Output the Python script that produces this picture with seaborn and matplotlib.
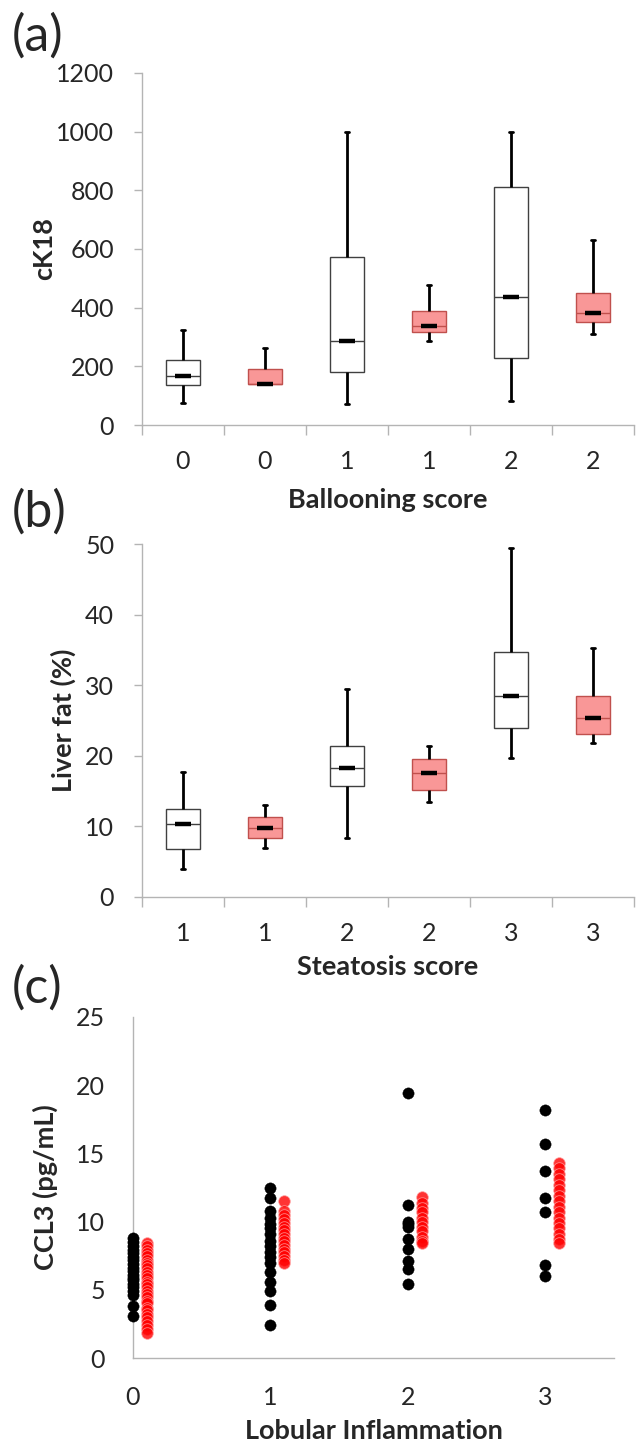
import numpy as np
import pandas as pd
import matplotlib
matplotlib.use("Agg")
import matplotlib.pyplot as plt
import seaborn as sns

# ---- (a) cK18 by ballooning score: five-number summaries (min, q1, median, q3, max)
BALLOON_LABELS = ["0", "0", "1", "1", "2", "2"]
CK18_STATS = [
    [76, 135, 168, 221, 323],     # 0 white
    [140, 141, 141, 190, 263],    # 0 red
    [72, 180, 286, 573, 1000],    # 1 white
    [286, 317, 339, 387, 478],    # 1 red
    [82, 228, 438, 810, 1000],    # 2 white
    [309, 351, 383, 451, 629],    # 2 red
]

# ---- (b) liver fat by steatosis score
STEATOSIS_LABELS = ["1", "1", "2", "2", "3", "3"]
FAT_STATS = [
    [3.9, 6.75, 10.4, 12.5, 17.7],
    [6.9, 8.3, 9.8, 11.3, 13.0],
    [8.3, 15.7, 18.3, 21.4, 29.4],
    [13.5, 15.2, 17.5, 19.6, 21.4],
    [19.7, 23.9, 28.4, 34.7, 49.5],
    [21.8, 23.1, 25.4, 28.5, 35.3],
]

# ---- (c) CCL3 by lobular inflammation
LOBULAR = [0, 1, 2, 3]
CCL3_BLACK = [
    [8.8, 8.5, 8.2, 7.9, 7.7, 7.4, 7.2, 6.9, 6.6, 6.4, 6.1, 5.9, 5.7, 5.4, 5.2, 4.9, 4.6, 3.8, 3.1],
    [12.5, 11.7, 10.8, 10.3, 9.8, 9.5, 9.1, 8.6, 8.2, 7.8, 7.4, 7.0, 6.3, 5.6, 4.9, 3.9, 2.4],
    [19.4, 11.2, 10.0, 9.8, 9.6, 8.7, 8.0, 7.1, 6.5, 5.4],
    [18.2, 15.7, 13.7, 11.7, 10.7, 6.8, 6.0],
]
CCL3_RED = [
    [8.4, 8.2, 7.9, 7.7, 7.5, 7.2, 7.0, 6.8, 6.6, 6.3, 6.1, 5.9, 5.6, 5.4, 5.2, 4.9, 4.7,
     4.5, 4.2, 4.0, 3.7, 3.5, 3.2, 3.0, 2.7, 2.4, 2.1, 1.8],
    [11.5, 10.8, 10.5, 10.2, 9.9, 9.6, 9.4, 9.1, 8.8, 8.6, 8.3, 8.0, 7.8, 7.5, 7.2, 7.0],
    [11.8, 11.4, 11.0, 10.7, 10.3, 10.0, 9.6, 9.3, 8.9, 8.6, 8.4],
    [14.3, 13.9, 13.5, 13.1, 12.7, 12.3, 11.9, 11.5, 11.1, 10.7, 10.3, 9.9, 9.5, 9.1, 8.7, 8.4],
]

GRAY = "#B4B4B4"
RED_FILL = "#F99797"
RED_EDGE = "#C0504D"
RED_SHIFT = 0.1
TICK_FS = 18
LABEL_FS = 19.5

sns.set_theme(style="white")
plt.rcParams["font.family"] = ["Lato", "DejaVu Sans"]

W, H = 637, 1446
fig = plt.figure(figsize=(W / 100, H / 100), dpi=100)


def frac(left, top, right, bottom):
    return [left / W, 1 - bottom / H, (right - left) / W, (bottom - top) / H]


def style_axes(ax):
    sns.despine(ax=ax)
    for s in ("left", "bottom"):
        ax.spines[s].set_color(GRAY)
        ax.spines[s].set_linewidth(1.0)


def box_panel(ax, stats, labels, ylim, step, ylabel, xlabel, ylab_x, xlab_y):
    rows = []
    for pos, five in enumerate(stats):
        for v in five:
            rows.append({"pos": pos, "val": v, "grp": "red" if pos % 2 else "white"})
    df = pd.DataFrame(rows)
    order = list(range(len(stats)))
    for grp, fill, edge in [("white", "white", "#404040"), ("red", RED_FILL, RED_EDGE)]:
        sns.boxplot(data=df[df.grp == grp], x="pos", y="val", order=order, ax=ax,
                    whis=(0, 100), width=0.41, saturation=1, color=fill,
                    linecolor=edge, linewidth=1.0, capwidths=0.05,
                    whiskerprops={"color": "black", "linewidth": 2.0},
                    capprops={"color": "black", "linewidth": 2.0},
                    medianprops={"color": edge, "linewidth": 1.0})
    meds = [s[2] for s in stats]
    ax.plot(order, meds, ls="none", marker="_", ms=11, mew=3.2, color="black", zorder=5)

    ax.set_xlim(-0.5, len(stats) - 0.5)
    ax.set_ylim(*ylim)
    ax.set_yticks(np.arange(ylim[0], ylim[1] + step / 2, step))
    ax.set_xticks(order)
    ax.set_xticklabels(labels)
    ax.set_xticks(np.arange(-0.5, len(stats)), minor=True)
    ax.tick_params(axis="x", which="minor", length=7, width=1, color=GRAY, direction="out",
                   bottom=True)
    ax.tick_params(axis="x", which="major", length=0, pad=18, labelsize=TICK_FS)
    ax.tick_params(axis="y", length=6, width=1, color=GRAY, direction="out", left=True,
                   pad=14, labelsize=TICK_FS)
    ax.set_ylabel(ylabel, fontsize=LABEL_FS, fontweight="bold")
    ax.set_xlabel(xlabel, fontsize=LABEL_FS, fontweight="bold")
    ax.yaxis.set_label_coords(ylab_x, 0.5)
    ax.xaxis.set_label_coords(0.5, xlab_y)
    style_axes(ax)


ax_a = fig.add_axes(frac(142, 73, 634, 425))
box_panel(ax_a, CK18_STATS, BALLOON_LABELS, (0, 1200), 200, "cK18", "Ballooning score",
          -0.175, -0.179)

ax_b = fig.add_axes(frac(142, 544, 634, 897))
box_panel(ax_b, FAT_STATS, STEATOSIS_LABELS, (0, 50), 10, "Liver fat (%)", "Steatosis score",
          -0.134, -0.164)

# ---- (c) scatter
rows = []
for g, blk, red in zip(LOBULAR, CCL3_BLACK, CCL3_RED):
    rows += [{"x": g, "val": v, "grp": "black"} for v in blk]
    rows += [{"x": g + RED_SHIFT, "val": v, "grp": "red"} for v in red]
dfc = pd.DataFrame(rows)

ax_c = fig.add_axes(frac(133, 1017, 614, 1358))
sns.scatterplot(data=dfc[dfc.grp == "red"], x="x", y="val", ax=ax_c, color="#FF0000",
                s=70, alpha=0.8, edgecolor="#FFA0A0", linewidth=0.6, legend=False, zorder=3)
sns.scatterplot(data=dfc[dfc.grp == "black"], x="x", y="val", ax=ax_c, color="black",
                s=66, edgecolor="black", linewidth=0.3, legend=False, zorder=4, clip_on=False)
ax_c.set_xlim(0, 3.5)
ax_c.set_ylim(0, 25)
ax_c.set_xticks(LOBULAR)
ax_c.set_yticks(np.arange(0, 26, 5))
ax_c.tick_params(axis="x", length=0, pad=20, labelsize=TICK_FS)
ax_c.tick_params(axis="y", length=0, pad=20, labelsize=TICK_FS)
ax_c.set_ylabel("CCL3 (pg/mL)", fontsize=LABEL_FS, fontweight="bold")
ax_c.set_xlabel("Lobular Inflammation", fontsize=LABEL_FS, fontweight="bold")
ax_c.yaxis.set_label_coords(-0.156, 0.5)
ax_c.xaxis.set_label_coords(0.5, -0.178)
style_axes(ax_c)

for label, yc in [("(a)", 36), ("(b)", 512), ("(c)", 988)]:
    fig.text(12 / W, 1 - yc / H, label, fontsize=36, va="center", ha="left")

fig.savefig("out.png", dpi=100)
